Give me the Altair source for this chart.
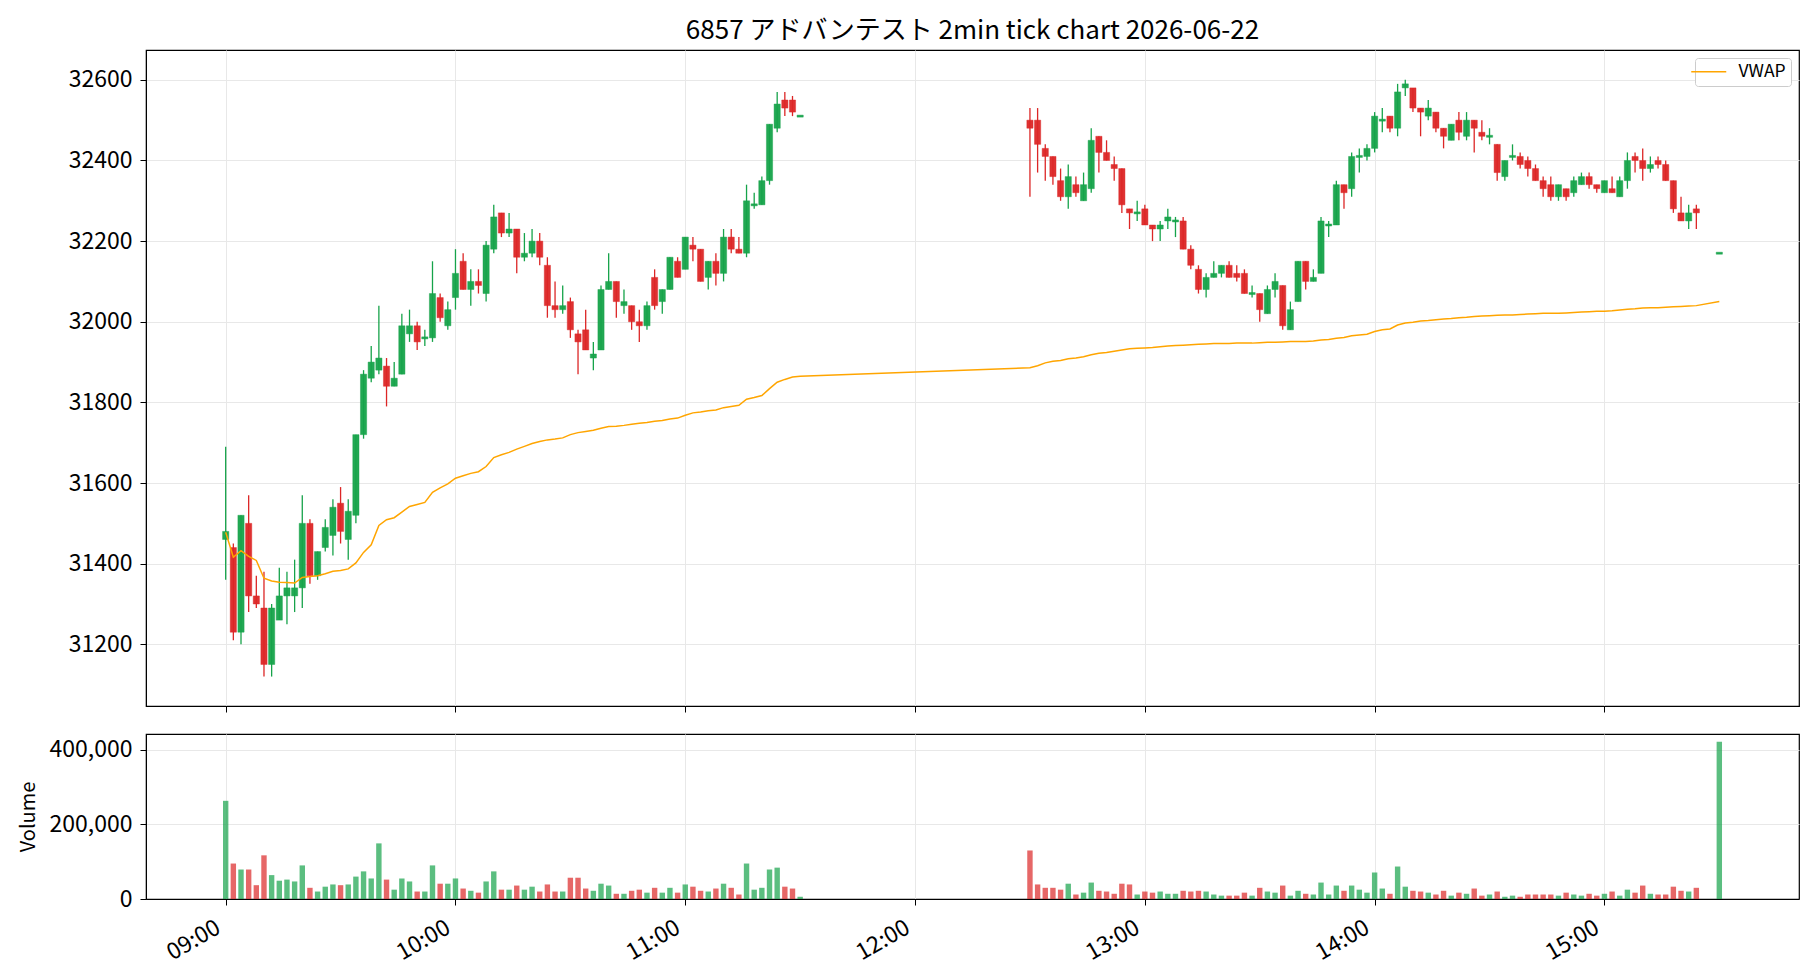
import altair as alt
import pandas as pd

# ---------------- data ----------------
# morning session 09:00-11:30, minutes after 09:00
am_t = list(range(0, 152, 2))
am_o = [31460, 31440, 31230, 31500, 31320, 31290, 31150, 31260, 31320, 31320,
        31340, 31500, 31370, 31440, 31470, 31550, 31460, 31520, 31720, 31860,
        31880, 31890, 31840, 31870, 31970, 31990, 31960, 31960, 32060, 31990,
        32060, 32150, 32080, 32100, 32070, 32180, 32270, 32220, 32230, 32160,
        32170, 32200, 32140, 32040, 32030, 32050, 31970, 31980, 31910, 31930,
        32080, 32100, 32040, 32040, 32000, 31990, 32110, 32050, 32080, 32150,
        32130, 32190, 32180, 32110, 32150, 32120, 32210, 32180, 32170, 32290,
        32290, 32350, 32480, 32550, 32550, 32510]
am_h = [31690, 31450, 31520, 31570, 31370, 31380, 31300, 31390, 31380, 31410,
        31570, 31510, 31430, 31510, 31560, 31590, 31560, 31720, 31880, 31940,
        32040, 31910, 31900, 32020, 32030, 32000, 31980, 32150, 32070, 32050,
        32180, 32170, 32130, 32130, 32200, 32290, 32270, 32270, 32230, 32220,
        32230, 32220, 32160, 32100, 32090, 32060, 31980, 32030, 31950, 32090,
        32170, 32100, 32080, 32040, 32030, 32050, 32130, 32080, 32160, 32160,
        32210, 32210, 32180, 32150, 32170, 32230, 32230, 32210, 32340, 32320,
        32360, 32490, 32570, 32570, 32560, 32510]
am_l = [31360, 31210, 31200, 31280, 31290, 31120, 31120, 31260, 31250, 31280,
        31290, 31350, 31360, 31430, 31420, 31450, 31410, 31500, 31710, 31850,
        31870, 31790, 31840, 31870, 31950, 31930, 31940, 31950, 32000, 31980,
        32030, 32080, 32040, 32070, 32050, 32170, 32210, 32210, 32120, 32150,
        32160, 32140, 32010, 32010, 32020, 31960, 31870, 31930, 31880, 31930,
        32080, 32010, 32020, 31980, 31950, 31980, 32030, 32020, 32080, 32110,
        32130, 32150, 32100, 32080, 32090, 32100, 32170, 32170, 32160, 32280,
        32290, 32340, 32470, 32510, 32510, 32510]
am_c = [31480, 31230, 31520, 31320, 31300, 31150, 31290, 31320, 31340, 31340,
        31500, 31370, 31430, 31490, 31540, 31480, 31530, 31720, 31870, 31900,
        31910, 31840, 31860, 31990, 31990, 31950, 31960, 32070, 32010, 32030,
        32120, 32080, 32100, 32090, 32190, 32260, 32220, 32230, 32160, 32170,
        32200, 32160, 32040, 32030, 32040, 31980, 31950, 31930, 31920, 32080,
        32100, 32050, 32050, 32000, 31990, 32040, 32040, 32080, 32160, 32110,
        32210, 32180, 32100, 32150, 32120, 32210, 32180, 32170, 32300, 32290,
        32350, 32490, 32540, 32530, 32520, 32510]
am_vol = [263, 95, 79, 79, 37, 117, 64, 49, 52, 47,
          90, 30, 20, 33, 39, 37, 39, 60, 74, 55,
          149, 52, 25, 55, 47, 20, 20, 90, 41, 41,
          55, 28, 22, 17, 47, 74, 25, 25, 36, 25,
          33, 20, 39, 20, 20, 57, 57, 28, 22, 41,
          36, 14, 14, 22, 25, 17, 30, 17, 30, 17,
          39, 33, 22, 20, 28, 41, 30, 12, 95, 25,
          30, 79, 84, 33, 28, 6]
am_vwap = [31478, 31416, 31432, 31418, 31408, 31364, 31357, 31354, 31353, 31352,
           31366, 31368, 31370, 31375, 31381, 31383, 31387, 31402, 31428, 31447,
           31495, 31509, 31514, 31528, 31542, 31547, 31552, 31577, 31588, 31598,
           31612, 31618, 31624, 31628, 31641, 31663, 31670, 31676, 31684, 31691,
           31698, 31703, 31707, 31709, 31712, 31720, 31725, 31728, 31731, 31736,
           31740, 31741, 31743, 31746, 31748, 31750, 31753, 31755, 31759, 31761,
           31768, 31774, 31776, 31779, 31781, 31787, 31790, 31793, 31808, 31812,
           31817, 31834, 31850, 31857, 31863, 31865]

# afternoon session 12:30-15:24 plus the 15:30 close
pm_t = list(range(210, 386, 2)) + [390]
pm_o = [32500, 32500, 32430, 32410, 32350, 32310, 32340, 32300, 32330, 32460,
        32420, 32390, 32380, 32280, 32270,
        32280, 32240, 32230, 32250, 32250, 32250, 32180, 32130, 32080, 32110,
        32120, 32140, 32120, 32120, 32070, 32070, 32020, 32080, 32090, 31980,
        32050, 32150, 32100, 32120, 32240, 32240, 32340, 32330, 32410, 32410,
        32430, 32500, 32510, 32480, 32580, 32580, 32530, 32510, 32520, 32480,
        32450, 32500, 32460, 32500, 32470, 32460, 32440, 32360, 32410, 32410,
        32400, 32380, 32350, 32340, 32310, 32330, 32320, 32340, 32360, 32340,
        32320, 32330, 32310, 32350, 32410, 32400, 32380, 32400, 32390, 32350,
        32270, 32250, 32280,
        32170]
pm_h = [32530, 32530, 32440, 32410, 32380, 32390, 32360, 32370, 32480, 32460,
        32450, 32410, 32380, 32280, 32300,
        32290, 32240, 32250, 32280, 32260, 32260, 32190, 32140, 32120, 32150,
        32140, 32150, 32140, 32130, 32090, 32070, 32090, 32120, 32090, 32050,
        32150, 32150, 32130, 32260, 32250, 32350, 32340, 32420, 32430, 32440,
        32520, 32530, 32510, 32590, 32600, 32580, 32530, 32550, 32520, 32480,
        32490, 32520, 32520, 32500, 32500, 32480, 32440, 32400, 32440, 32420,
        32410, 32390, 32360, 32360, 32340, 32330, 32360, 32370, 32370, 32340,
        32350, 32360, 32360, 32420, 32420, 32430, 32410, 32410, 32400, 32350,
        32310, 32290, 32290,
        32170]
pm_l = [32310, 32370, 32350, 32340, 32300, 32280, 32310, 32300, 32320, 32370,
        32400, 32350, 32270, 32230, 32250,
        32240, 32200, 32200, 32230, 32210, 32180, 32130, 32070, 32060, 32110,
        32110, 32110, 32100, 32070, 32060, 32000, 32020, 32060, 31980, 31980,
        32050, 32080, 32100, 32120, 32210, 32240, 32280, 32310, 32370, 32400,
        32420, 32470, 32470, 32460, 32560, 32520, 32460, 32500, 32470, 32430,
        32450, 32450, 32450, 32420, 32450, 32440, 32350, 32350, 32400, 32380,
        32360, 32350, 32310, 32300, 32300, 32300, 32310, 32340, 32330, 32320,
        32320, 32320, 32310, 32330, 32370, 32350, 32370, 32380, 32350, 32270,
        32250, 32230, 32230,
        32170]
pm_c = [32480, 32440, 32410, 32360, 32310, 32360, 32320, 32340, 32450, 32420,
        32400, 32380, 32290, 32270, 32270,
        32240, 32230, 32240, 32260, 32250, 32180, 32140, 32080, 32110, 32120,
        32140, 32110, 32110, 32070, 32070, 32030, 32080, 32100, 31990, 32030,
        32150, 32100, 32110, 32250, 32240, 32340, 32320, 32410, 32410, 32430,
        32510, 32500, 32480, 32570, 32590, 32530, 32520, 32530, 32480, 32460,
        32490, 32470, 32500, 32480, 32460, 32460, 32370, 32400, 32410, 32390,
        32380, 32350, 32330, 32310, 32340, 32310, 32350, 32360, 32340, 32330,
        32350, 32320, 32350, 32400, 32400, 32380, 32390, 32390, 32350, 32280,
        32250, 32270, 32270,
        32170]
pm_vol = [130, 39, 30, 30, 25, 41, 12, 17, 44, 22, 20, 14, 41, 39, 12,
          20, 17, 20, 14, 14, 22, 20, 22, 20, 12, 9, 9, 9, 17, 9,
          30, 20, 17, 36, 9, 22, 14, 12, 44, 12, 36, 22, 36, 25, 17,
          71, 28, 14, 87, 33, 22, 20, 17, 12, 22, 9, 17, 14, 28, 9,
          12, 20, 6, 9, 6, 12, 12, 12, 12, 9, 17, 12, 9, 14, 9,
          14, 20, 9, 25, 17, 36, 14, 12, 12, 33, 22, 20, 30,
          421]
pm_vwap = [31886, 31891, 31898, 31902, 31904, 31908, 31910, 31913, 31918, 31922,
           31924, 31927, 31930, 31933, 31934,
           31935, 31936, 31938, 31940, 31941, 31942, 31943, 31944, 31945, 31946,
           31946, 31946, 31947, 31947, 31947, 31948, 31949, 31949, 31950, 31951,
           31951, 31951, 31952, 31955, 31956, 31959, 31961, 31965, 31967, 31969,
           31976, 31980, 31982, 31992, 31997, 31999, 32002, 32003, 32005, 32007,
           32008, 32010, 32011, 32013, 32014, 32015, 32016, 32017, 32017, 32018,
           32019, 32020, 32021, 32021, 32021, 32022, 32023, 32024, 32025, 32026,
           32026, 32027, 32029, 32031, 32032, 32034, 32035, 32035, 32036, 32037,
           32038, 32039, 32040,
           32050]

price_ticks = list(range(31200, 32601, 200))
vol_ticks = [0, 200000, 400000]
hour_ticks = list(range(0, 361, 60))  # 09:00 ... 15:00

TITLE = "6857 アドバンテスト 2min tick chart 2026-06-22"
UP, DOWN = "#16a34a", "#dc2626"
FONT = "Noto Sans CJK JP"

# ---------------- table ----------------
t = am_t + pm_t
o = am_o + pm_o
h = am_h + pm_h
l = am_l + pm_l
c = am_c + pm_c
v = [x * 1000 for x in am_vol + pm_vol]
w = am_vwap + pm_vwap
df = pd.DataFrame({"t": t, "o": o, "h": h, "l": l, "c": c, "vol": v, "vwap": w})
df["col"] = [UP if cc >= oo else DOWN for oo, cc in zip(df.o, df.c)]
lo = df[["o", "c"]].min(axis=1)
hi = df[["o", "c"]].max(axis=1)
mid = (lo + hi) / 2
thin = (hi - lo) < 5
df["blo"] = lo.where(~thin, mid - 2.5)
df["bhi"] = hi.where(~thin, mid + 2.5)
df["series"] = "VWAP"

xscale = alt.Scale(domain=[-19.5, 409.5], nice=False, zero=False)
pscale = alt.Scale(domain=[31047, 32674], nice=False, zero=False)
vscale = alt.Scale(domain=[0, 442000], nice=False)

base = alt.Chart(df)

x_top = alt.X("t:Q", scale=xscale,
              axis=alt.Axis(values=hour_ticks, labels=False, title=None, ticks=True, grid=True))

wick = base.mark_rule(strokeWidth=1.3).encode(
    x=x_top,
    y=alt.Y("l:Q", scale=pscale,
            axis=alt.Axis(values=price_ticks, format="d", title=None, grid=True,
                          labelPadding=8)),
    y2="h:Q",
    color=alt.Color("col:N", scale=None),
)
body = base.mark_bar(size=6.2, strokeWidth=0.8, strokeOpacity=0.55, fillOpacity=0.95).encode(
    x=alt.X("t:Q", scale=xscale),
    y=alt.Y("blo:Q", scale=pscale),
    y2="bhi:Q",
    color=alt.Color("col:N", scale=None),
    stroke=alt.Stroke("col:N", scale=None),
)
vwap = base.mark_line(strokeWidth=1.5).encode(
    x=alt.X("t:Q", scale=xscale),
    y=alt.Y("vwap:Q", scale=pscale),
    color=alt.Color("series:N",
                    scale=alt.Scale(domain=["VWAP"], range=["#FFA500"]),
                    legend=alt.Legend(title=None, orient="top-right", offset=8,
                                      symbolType="M-2.5,0H2.5", symbolSize=196,
                                      symbolStrokeWidth=1.5, symbolFillColor="transparent",
                                      labelFontSize=17.5, labelOffset=21,
                                      labelFont=FONT, padding=5, cornerRadius=3,
                                      strokeColor="#cccccc", fillColor="white")),
)

top = alt.layer(wick, body, vwap).resolve_scale(color="independent").properties(
    width=1653, height=656,
    title=alt.TitleParams(TITLE, anchor="middle", frame="group", fontSize=26,
                          font=FONT, fontWeight="normal", offset=6, color="black"),
)

volume = base.mark_bar(size=5.4, opacity=0.7).encode(
    x=alt.X("t:Q", scale=xscale,
            axis=alt.Axis(values=hour_ticks, title=None, grid=True,
                          labelExpr="pad(floor(datum.value/60)+9, 2, '0', 'left') + ':00'",
                          labelAngle=-30, labelAlign="right", labelBaseline="top",
                          labelPadding=11, labelOffset=-13)),
    y=alt.Y("vol:Q", scale=vscale,
            axis=alt.Axis(values=vol_ticks, format=",d", title="Volume", grid=True,
                          titleFontWeight="normal", titlePadding=11, labelPadding=8)),
    color=alt.Color("col:N", scale=None),
).properties(width=1653, height=165)

chart = alt.vconcat(top, volume, spacing=19).properties(
    padding={"left": 17, "top": 17, "right": 5, "bottom": 5},
    background="white",
).configure_axis(
    labelFont=FONT, titleFont=FONT, labelFontSize=23, titleFontSize=20,
    labelColor="black", titleColor="black",
    domainColor="black", tickColor="black", tickSize=6, domainWidth=1,
    gridColor="#e8e8e8", gridWidth=1,
).configure_view(stroke="black", strokeWidth=1.2)

chart.save("out.html", embed_options={"renderer": "svg", "actions": False})
